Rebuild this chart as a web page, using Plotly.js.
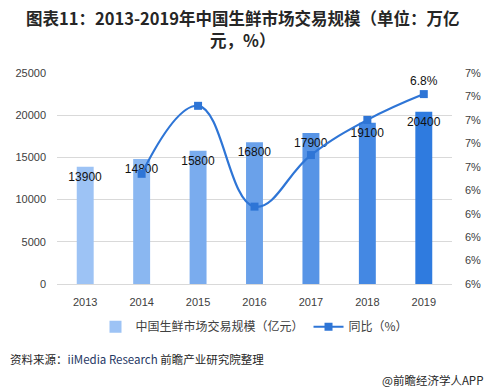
<!DOCTYPE html>
<html><head><meta charset="utf-8">
<script src="https://cdn.plot.ly/plotly-3.0.1.min.js"></script>
<style>body{margin:0;padding:0;background:#fff}#chart{width:487px;height:392px}</style>
</head><body><div id="chart"></div>
<script>
const years = ['2013','2014','2015','2016','2017','2018','2019'];
const marketSize = [13900,14800,15800,16800,17900,19100,20400];
const barColors = ['#9DC3F5','#8AB7F1','#7AACEE','#6AA1EA','#5794E6','#4488E3','#2F7BDF'];
const lineYears = ['2014','2015','2016','2017','2018','2019'];
const growth = [6.47,6.76,6.33,6.55,6.70,6.81];
const growthLabels = ['','','','','','6.8%'];
const y2Ticks = [6.0,6.1,6.2,6.3,6.4,6.5,6.6,6.7,6.8,6.9];
const y2TickText = ['6%','6%','6%','6%','6%','7%','7%','7%','7%','7%'];
const titleLines = ['图表11：2013-2019年中国生鲜市场交易规模（单位：万亿','元，%）'];

const font = 'Noto Sans CJK SC, Noto Sans, sans-serif';
const numFont = 'Liberation Sans, Arial, sans-serif';
const data = [
  {type:'bar', x:years, y:marketSize, name:'中国生鲜市场交易规模（亿元）',
   marker:{color:barColors}, width:0.3,
   text:marketSize.map(String), textposition:'inside', insidetextanchor:'end', textangle:0,
   constraintext:'none', cliponaxis:false,
   textfont:{color:'#111', size:12, family:numFont},
   hoverinfo:'none'},
  {type:'scatter', x:lineYears, y:growth, yaxis:'y2', name:'同比（%）',
   mode:'lines+markers+text', text:growthLabels, textposition:'top center',
   textfont:{color:'#111', size:12, family:numFont},
   line:{color:'#2E75D6', width:2.2, shape:'spline', smoothing:1.2},
   marker:{symbol:'square', size:8, color:'#2E75D6'}, cliponaxis:false}
];
const layout = {
  width:487, height:392,
  margin:{l:57, r:35, t:73, b:108},
  paper_bgcolor:'#fff', plot_bgcolor:'#fff',
  font:{family:font, color:'#404040'},
  xaxis:{type:'category', showgrid:false, showline:true, linecolor:'#D9D9D9',
    ticks:'', ticklabelstandoff:8, tickfont:{size:11, color:'#404040', family:numFont}},
  yaxis:{range:[0,25000], dtick:5000, tickformat:'d', gridcolor:'#D9D9D9', zeroline:false,
    ticks:'', ticklabelstandoff:10, tickfont:{size:11, color:'#404040', family:numFont}},
  yaxis2:{overlaying:'y', side:'right', range:[6.0,6.9], tickvals:y2Ticks, ticktext:y2TickText,
    showgrid:false, zeroline:false, ticks:'', ticklabelstandoff:12,
    tickfont:{size:11, color:'#404040', family:numFont}},
  showlegend:true,
  legend:{orientation:'h', x:0.5, xanchor:'center', y:-0.134, yanchor:'top',
    font:{size:12, color:'#404040', family:font}, traceorder:'normal'},
  annotations:[
    {text:'<b>'+titleLines[0]+'</b>',
     xref:'paper', yref:'paper', x:0.5, xanchor:'center', y:(284-18)/211, yanchor:'middle',
     showarrow:false, xshift:-12,
     font:{size:16.5, color:'#262626', family:font}},
    {text:'<b>'+titleLines[1]+'</b>',
     xref:'paper', yref:'paper', x:0.5, xanchor:'center', y:(284-40)/211, yanchor:'middle',
     showarrow:false, xshift:-12,
     font:{size:16.5, color:'#262626', family:font}},
    {text:'资料来源：<span style="color:#1F3864">iiMedia Research</span> 前瞻产业研究院整理', xref:'paper', yref:'paper',
     x:-57/395, xanchor:'left', y:-0.307, yanchor:'top', showarrow:false,
     font:{size:11.5, color:'#262626', family:font}, xshift:8},
    {text:'@前瞻经济学人APP', xref:'paper', yref:'paper', x:1, xanchor:'right',
     y:-0.407, yanchor:'top', showarrow:false, xshift:33,
     font:{size:11.5, color:'#262626', family:font}}
  ]
};
Plotly.newPlot('chart', data, layout, {displayModeBar:false, staticPlot:true});
</script></body></html>
